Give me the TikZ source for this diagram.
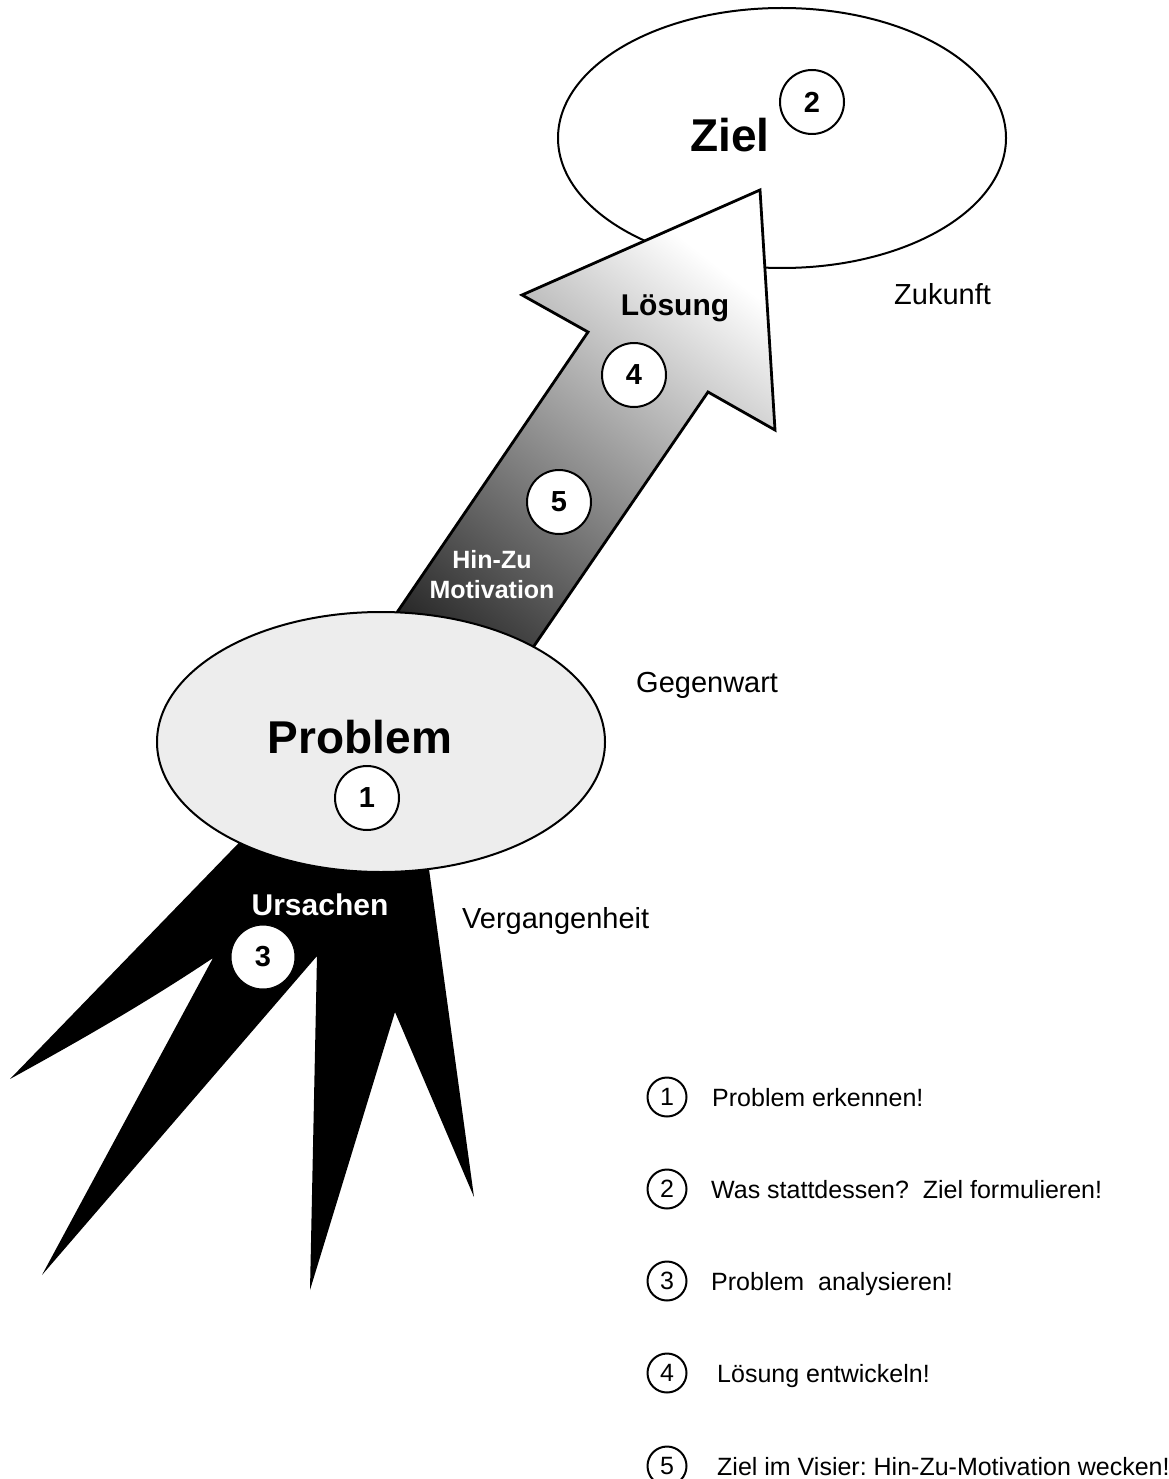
\documentclass[tikz,border=0pt]{standalone}
\usepackage{fontspec}
\setmainfont{Liberation Sans}
\usetikzlibrary{shapes.geometric}
\frenchspacing
\begin{document}
\begin{tikzpicture}[x=1pt,y=-1pt,
  bubble/.style={ellipse, draw=black, line width=2pt, minimum width=448pt, minimum height=260pt, inner sep=0pt},
  numc/.style={circle, draw=black, line width=2pt, fill=white, minimum size=64pt, inner sep=0pt, font=\bfseries\fontsize{29}{29}\selectfont},
  legc/.style={circle, draw=black, line width=2pt, minimum size=39pt, inner sep=0pt, font=\fontsize{25}{25}\selectfont},
  legt/.style={anchor=base west, inner sep=0pt, font=\fontsize{25}{30}\selectfont},
  lab/.style={anchor=base west, inner sep=0pt, font=\fontsize{29}{32}\selectfont},
  big/.style={anchor=base, inner sep=0pt, font=\bfseries\fontsize{46}{48}\selectfont},
  mid/.style={anchor=base, inner sep=0pt, font=\bfseries\fontsize{30}{32}\selectfont},
  small/.style={anchor=base, inner sep=0pt, font=\bfseries\fontsize{25}{27}\selectfont}
]
\useasboundingbox (0,0) rectangle (1168,1479);

% Ziel ellipse
\node[bubble, fill=white] (zielE) at (782,138) {};

% Arrow (Loesung)
\coordinate (tip) at (760,190);
\coordinate (rb) at (775,430);
\coordinate (rn) at (708,392);
\coordinate (sr) at (497,700);
\coordinate (sl) at (351,680);
\coordinate (ln) at (588,332);
\coordinate (lb) at (522,295);
\shade[top color=white, bottom color=black!85, shading angle=-38, draw=black, line width=2.8pt, line join=miter]
  (tip) -- (rb) -- (rn) -- (sr) -- (sl) -- (ln) -- (lb) -- cycle;

% Ursachen spikes
\coordinate (u0) at (261,820);
\coordinate (t1) at (10,1079);
\coordinate (n1) at (213,958);
\coordinate (t2) at (42,1275);
\coordinate (n2) at (317,956);
\coordinate (t3) at (310,1290);
\coordinate (n3) at (395,1012);
\coordinate (t4) at (474,1197);
\coordinate (u5) at (425,840);
\fill[black] (u0) -- (t1) .. controls (90,1035) and (150,1000) .. (n1) -- (t2) -- (n2) -- (t3) -- (n3) -- (t4) -- (u5) -- cycle;

% Problem ellipse
\node[bubble, fill=black!7] (probE) at (381,742) {};

% texts in the picture
\node[big] (ziel) at (730,152) {Ziel};
\node[big] (problem) at (360,753) {Problem};
\node[mid] (loesung) at (675,315) {Lösung};
\node[mid, text=white] (ursachen) at (320,915) {Ursachen};
\node[small, text=white] (hinzu) at (492,568) {Hin-Zu};
\node[small, text=white] (motiv) at (492,598) {Motivation};

% numbered circles
\node[numc] (c1) at (367,798) {1};
\node[numc] (c2) at (812,102) {2};
\node[numc, line width=1pt] (c3) at (263,957) {3};
\node[numc] (c4) at (634,375) {4};
\node[numc] (c5) at (559,502) {5};

% time labels
\node[lab] (zukunft) at (894,304) {Zukunft};
\node[lab] (gegenwart) at (636,692) {Gegenwart};
\node[lab] (vergangen) at (462,928) {Vergangenheit};

% legend
\node[legc] (l1) at (667,1097) {1};
\node[legc] (l2) at (667,1189) {2};
\node[legc] (l3) at (667,1281) {3};
\node[legc] (l4) at (667,1373) {4};
\node[legc] (l5) at (667,1466) {5};
\node[legt] (lt1) at (712,1106) {Problem erkennen!};
\node[legt] (lt2) at (711,1198) {Was stattdessen?~~Ziel formulieren!};
\node[legt] (lt3) at (711,1290) {Problem~~analysieren!};
\node[legt] (lt4) at (717,1382) {Lösung entwickeln!};
\node[legt] (lt5) at (717,1475) {Ziel im Visier: Hin-Zu-Motivation wecken!};
\end{tikzpicture}
\end{document}
